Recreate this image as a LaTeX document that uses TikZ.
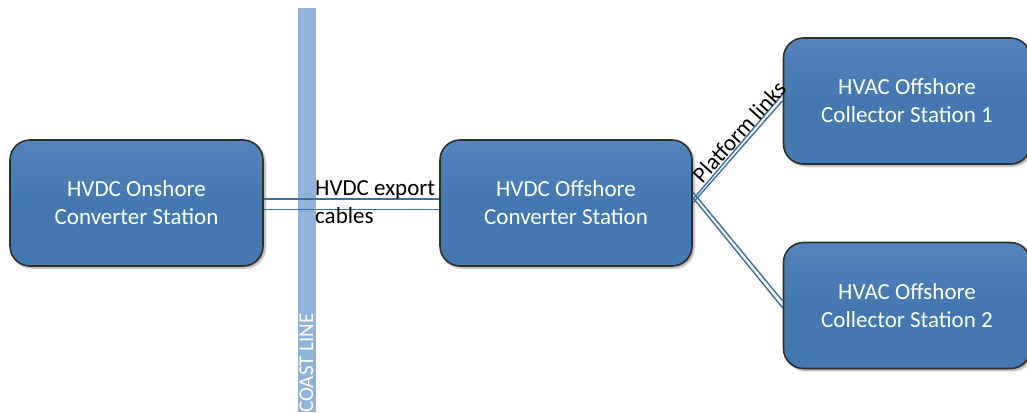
\documentclass[tikz,border=0pt]{standalone}
\usepackage{fontspec}
\setmainfont{Carlito}
\usetikzlibrary{shadows.blur,calc}
\definecolor{boxfill}{HTML}{4478B0}
\definecolor{boxtop}{HTML}{5285BC}
\definecolor{boxedge}{HTML}{2F2F2F}
\definecolor{coast}{HTML}{8FB3D9}
\definecolor{cable}{HTML}{3A6EA6}
\tikzset{
  station/.style={rectangle, rounded corners=20pt, draw=boxedge, line width=1.6pt,
    top color=boxtop, bottom color=boxfill, middle color=boxfill,
    minimum height=126pt, align=center, text=white,
    font=\fontsize{23}{28}\selectfont,
    blur shadow={shadow xshift=2pt, shadow yshift=-2pt, shadow blur steps=6}},
  cableline/.style={draw=cable, line width=1.4pt},
  label/.style={font=\fontsize{23}{28}\selectfont, text=black, inner sep=0pt}
}
\begin{document}
\begin{tikzpicture}[x=1pt,y=-1pt]
\useasboundingbox (0,0) rectangle (1027,412);

% coast line band with its vertical caption
\fill[coast] (298,8) rectangle (316,412);
\node[rotate=90, text=white, font=\fontsize{21}{24}\selectfont, inner sep=0pt, anchor=base west]
  (coastlbl) at (313,413) {COAST LINE};

% stations
\node[station, minimum width=253pt] (on) at (136.5,203) {HVDC Onshore\\Converter Station};
\node[station, minimum width=252pt] (off) at (566,203) {HVDC Offshore\\Converter Station};
\node[station, minimum width=247pt] (c1) at (907,101) {HVAC Offshore\\Collector Station 1};
\node[station, minimum width=247pt] (c2) at (907,305.5) {HVAC Offshore\\Collector Station 2};

% export cables between the converter stations
\draw[cableline] ([yshift=-6.5]on.east) -- ([yshift=-6.5]off.west);
\draw[cableline] ([yshift=4]on.east) -- ([yshift=4]off.west);
\node[label, anchor=base west] (exp1) at (315,195) {HVDC export};
\node[label, anchor=base west] (exp2) at (315,223) {cables};

% platform links: a pair of cables to each collector station
\draw[cableline] ([yshift=0]off.east) -- ([yshift=0.5]c1.west);
\draw[cableline] ([yshift=3.5]off.east) -- ([yshift=7]c1.west);
\draw[cableline] ([yshift=5.5]off.east) -- ([yshift=-2.5]c2.west);
\draw[cableline] ([yshift=11]off.east) -- ([yshift=4.5]c2.west);
\node[label, rotate=48] (plat) at (739,132) {Platform links};
\end{tikzpicture}
\end{document}
